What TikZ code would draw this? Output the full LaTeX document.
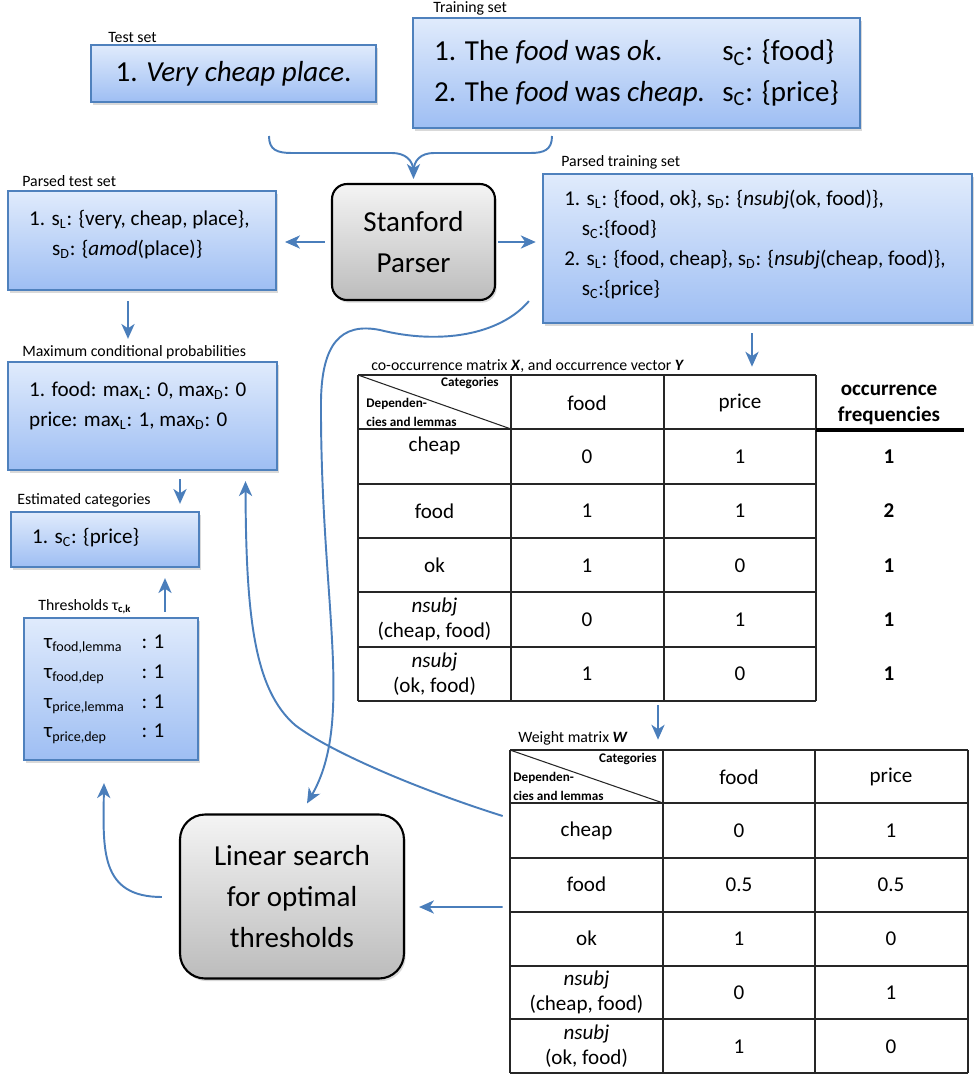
\documentclass[tikz,border=0pt]{standalone}
\usepackage{fontspec}
\setmainfont{Carlito}
\usetikzlibrary{arrows.meta,calc,shadows}

\definecolor{boxblue}{RGB}{79,129,189}
\definecolor{arrblue}{RGB}{74,126,187}
\definecolor{boxtop}{RGB}{224,235,252}
\definecolor{boxbot}{RGB}{158,190,243}
\definecolor{graytop}{RGB}{244,244,244}
\definecolor{graybot}{RGB}{188,188,188}

\begin{document}
\begin{tikzpicture}[
        x=0.02cm, y=-0.02cm,
        >={Stealth[length=8.5pt,width=7.5pt,inset=2.5pt]},
        setbox/.style={rectangle, draw=boxblue, line width=1.3pt, top color=boxtop, bottom color=boxbot, drop shadow={opacity=0.3, shadow xshift=1pt, shadow yshift=-1.5pt}, inner sep=0pt},
        proc/.style={rectangle, draw, line width=1.2pt, top color=graytop, bottom color=graybot, drop shadow={opacity=0.3, shadow xshift=1pt, shadow yshift=-1.5pt}, align=center, font=\fontsize{16.5}{23.5}\selectfont},
        lbl/.style={anchor=west, inner sep=0pt, font=\fontsize{9}{11}\selectfont},
        boxtxt/.style={anchor=west, inner sep=0pt, align=left, font=\fontsize{12}{17}\selectfont},
        flow/.style={->, draw=arrblue, line width=1.1pt},
        grid/.style={draw=black!85, line width=0.6pt},
        cell/.style={inner sep=0pt, align=center, font=\fontsize{12}{14.2}\selectfont},
        boldcell/.style={cell, font=\bfseries\fontsize{12}{14.7}\selectfont},
        corner/.style={inner sep=0pt, align=left, font=\bfseries\fontsize{7.5}{10.5}\selectfont},
        tabframe/.style={rectangle, inner sep=0pt, minimum width=9.16cm}
    ]
    \useasboundingbox (0,0) rectangle (974,1076);

    % Insiemi di partenza
    \node[setbox, minimum width=5.70cm, minimum height=1.14cm, font=\fontsize{16.5}{22}\selectfont] (testset) at (233.5,73.5) {1. \textit{Very cheap place}.};
    \node[lbl] (testlbl) at (108,37) {Test set};

    \node[setbox, minimum width=8.94cm, minimum height=2.20cm, align=left, font=\fontsize{16.5}{23}\selectfont] (trainset) at (636.5,73) {\makebox[164pt][l]{1. The \textit{food} was \textit{ok}.}s\textsubscript{C}: \{food\}\\\makebox[164pt][l]{2. The \textit{food} was \textit{cheap.}}s\textsubscript{C}: \{price\}};
    \node[lbl] (trainlbl) at (433,8) {Training set};

    \coordinate (brL) at (269,136);
    \coordinate (brR) at (552,136);

    % Parser
    \node[proc, rounded corners=0.3cm, minimum width=3.26cm, minimum height=2.32cm] (parser) at (413.5,242) {Stanford\\Parser};

    % Insiemi analizzati
    \node[setbox, minimum width=5.36cm, minimum height=1.98cm] (ptest) at (142,240.5) {};
    \node[boxtxt] (ptesttxt) at ($(ptest.west)+(22,-6)$) {1. s\textsubscript{L}: \{very, cheap, place\},\\\hspace*{13pt}s\textsubscript{D}: \{\textit{amod}(place)\}};
    \node[lbl] (ptestlbl) at (22,181) {Parsed test set};

    \node[setbox, minimum width=8.58cm, minimum height=2.98cm] (ptrain) at (757.5,248.5) {};
    \node[boxtxt] (ptraintxt) at ($(ptrain.west)+(22,-4)$) {1. s\textsubscript{L}: \{food, ok\}, s\textsubscript{D}: \{\textit{nsubj}(ok, food)\},\\\hspace*{10pt}s\textsubscript{C}:\{food\}\\2. s\textsubscript{L}: \{food, cheap\}, s\textsubscript{D}: \{\textit{nsubj}(cheap, food)\},\\\hspace*{10pt}s\textsubscript{C}:\{price\}};
    \node[lbl] (ptrainlbl) at (561,162) {Parsed training set};

    % Probabilita' e categorie stimate
    \node[setbox, minimum width=5.38cm, minimum height=2.16cm] (maxprob) at (142.5,416) {};
    \node[boxtxt] (maxprobtxt) at ($(maxprob.west)+(22,-10)$) {1. food: max\textsubscript{L}: 0, max\textsubscript{D}: 0\\price: max\textsubscript{L}: 1, max\textsubscript{D}: 0};
    \node[lbl] (maxproblbl) at (22,352) {Maximum conditional probabilities};

    \node[setbox, minimum width=3.76cm, minimum height=1.10cm] (estcat) at (105,539.5) {};
    \node[boxtxt] (estcattxt) at ($(estcat.west)+(22,-2)$) {1. s\textsubscript{C}: \{price\}};
    \node[lbl] (estcatlbl) at (17,500) {Estimated categories};

    \node[setbox, minimum width=3.48cm, minimum height=2.84cm] (thresh) at (111,689) {};
    \node[boxtxt] (threshtxt) at ($(thresh.west)+(21,0)$) {\makebox[55.5pt][l]{τ\textsubscript{food,lemma}}: 1\\\makebox[55.5pt][l]{τ\textsubscript{food,dep}}: 1\\\makebox[55.5pt][l]{τ\textsubscript{price,lemma}}: 1\\\makebox[55.5pt][l]{τ\textsubscript{price,dep}}: 1};
    \node[lbl] (threshlbl) at (38,607) {Thresholds τ\textsubscript{\textbf{c,k}}};

    % Ricerca lineare
    \node[proc, rounded corners=0.5cm, minimum width=4.48cm, minimum height=3.28cm] (linsearch) at (292,896.5) {Linear search\\for optimal\\thresholds};

    % Matrice di co-occorrenza
    \node[tabframe, minimum height=6.52cm] (xmat) at (587,538) {};
    \node[lbl] (xlbl) at (371,366) {co-occurrence matrix \textbf{\textit{X}}, and occurrence vector \textbf{\textit{Y}}};
    \foreach \x in {358,511,664,816} \draw[grid] (\x,375) -- (\x,701);
    \foreach \y in {375,429,484,538,592,647,701} \draw[grid] (358,\y) -- (816,\y);
    \draw[grid] (358,375) -- (511,429);
    \draw[black, line width=1.8pt] (816,430) -- (964,430);
    \node[corner, anchor=east] (xcat) at (499,383) {Categories};
    \node[corner, anchor=west] (xdep) at (366,412.5) {Dependen-\\cies and lemmas};
    \node[cell] (xfood) at (587,403) {food};
    \node[cell] (xprice) at (740,403) {price};
    \node[boldcell] (xocc) at (889,405) {occurrence\\frequencies};
    \foreach \lab/\a/\b/\c/\dy [count=\i] in {cheap/0/1/1/-11, food/1/1/2/0, ok/1/0/1/0, {\textit{nsubj}\\(cheap, food)}/0/1/1/0, {\textit{nsubj}\\(ok, food)}/1/0/1/0} {
        \node[cell] (xr\i) at (434.5,{456.5+54.4*(\i-1)+(\dy)}) {\lab};
        \node[cell] (xa\i) at (587,{456.5+54.4*(\i-1)}) {\a};
        \node[cell] (xb\i) at (740,{456.5+54.4*(\i-1)}) {\b};
        \node[boldcell] (xc\i) at (889,{456.5+54.4*(\i-1)}) {\c};
    }

    % Matrice dei pesi
    \node[tabframe, minimum height=6.46cm] (wmat) at (739,911.5) {};
    \node[lbl] (wlbl) at (518,738) {Weight matrix \textbf{\textit{W}}};
    \foreach \x in {510,663,815,968} \draw[grid] (\x,750) -- (\x,1073);
    \foreach \y in {750,803,858,912,966,1019,1073} \draw[grid] (510,\y) -- (968,\y);
    \draw[grid] (510,750) -- (663,803);
    \node[corner, anchor=east] (wcat) at (657,759) {Categories};
    \node[corner, anchor=west] (wdep) at (513,786.5) {Dependen-\\cies and lemmas};
    \node[cell] (wfood) at (739,777) {food};
    \node[cell] (wprice) at (891,777) {price};
    \foreach \lab/\a/\b [count=\i] in {cheap/0/1, food/0.5/0.5, ok/1/0, {\textit{nsubj}\\(cheap, food)}/0/1, {\textit{nsubj}\\(ok, food)}/1/0} {
        \node[cell] (wr\i) at (586.5,{830.5+54*(\i-1)}) {\lab};
        \node[cell] (wa\i) at (739,{830.5+54*(\i-1)}) {\a};
        \node[cell] (wb\i) at (891,{830.5+54*(\i-1)}) {\b};
    }

    % Collegamenti
    \draw[flow] (brL) .. controls (269,150) and (277,153) .. (292,153) -- (392,153) .. controls (405,153) and (413.5,160) .. (413.5,172) -- ($(parser.north)+(0,-4)$);
    \draw[arrblue, line width=1.1pt] (brR) .. controls (552,150) and (544,153) .. (530,153) -- (434,153) .. controls (421,153) and (413.5,160) .. (413.5,172);
    \draw[flow, shorten <=3.4pt, shorten >=4.5pt] (parser.west) -- (parser.west -| ptest.east);
    \draw[flow, shorten <=1pt, shorten >=3.5pt] (parser.east) -- (parser.east -| ptrain.west);
    \draw[flow] ($(ptest.south)+(-14,10)$) -- ($(maxprob.north)+(-14.5,-22)$);
    \draw[flow] ($(maxprob.south)+(37.5,8)$) -- ($(estcat.north)+(75,-7)$);
    \draw[flow] ($(thresh.north)+(54,-5)$) -- ($(estcat.south)+(60,10)$);
    \draw[flow] ($(ptrain.south)+(-5.5,9)$) -- ($(xmat.north)+(165,-8)$);
    \draw[flow] ($(xmat.south)+(71,4)$) -- ($(wmat.north)+(-81,-10)$);
    \draw[flow] ($(wmat.west)+(-7,-4.5)$) -- ($(linsearch.east)+(14,10.5)$);

    % Curve di ritorno
    \draw[flow] ($(ptrain.south west)+(-13,-23)$) .. controls (500,335) and (440,345) .. (380,330) .. controls (340,322) and (322,345) .. (321,400) .. controls (320,600) and (355,720) .. ($(linsearch.north)+(15,-10)$);
    \draw[flow] ($(wmat.west)+(-7,-95.5)$) .. controls (420,790) and (330,752) .. (295,725) .. controls (255,690) and (246,620) .. ($(maxprob.south)+(103,10)$);
    \draw[flow] ($(linsearch.west)+(-17,0.5)$) .. controls (100,897) and (103,850) .. ($(thresh.south)+(-7,22)$);

\end{tikzpicture}
\end{document}
